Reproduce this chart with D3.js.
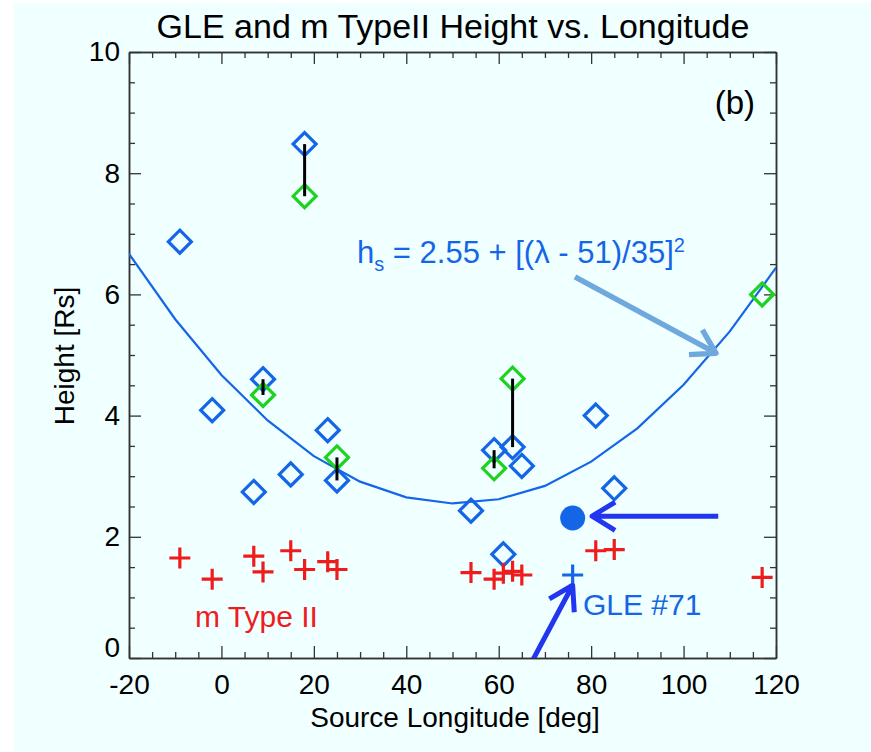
<!DOCTYPE html>
<html>
<head>
<meta charset="utf-8">
<script src="https://d3js.org/d3.v7.min.js"></script>
<style>
body {margin: 0; background: white;}
text {font-family: "Liberation Sans", Arial, sans-serif;}
</style>
</head>
<body>
<svg width="871" height="752"></svg>
<script>
// blue diamonds (measured height)
var blueLon = [-9, 18, 9, -2, 23, 25, 15, 7, 63, 59, 65, 81, 85, 54, 61];
var blueH   = [6.87, 8.48, 4.60, 4.09, 3.76, 2.93, 3.03, 2.74, 3.48, 3.43, 3.17, 4.00, 2.80, 2.43, 1.71];
// green diamonds
var greenLon = [18, 9, 25, 63, 59, 117];
var greenH   = [7.62, 4.34, 3.31, 4.61, 3.13, 6.00];
// black bars joining blue and green pairs
var barLon = [18, 9, 25, 63, 59];
var barTop = [8.48, 4.60, 3.31, 4.61, 3.43];
var barBot = [7.62, 4.34, 2.93, 3.48, 3.13];
// red crosses: m Type II heights
var redLon = [-9, -2, 7, 9, 15, 18, 23, 25, 54, 59, 61, 63, 65, 81, 85, 117];
var redH   = [1.65, 1.30, 1.68, 1.42, 1.77, 1.46, 1.59, 1.46, 1.41, 1.30, 1.40, 1.43, 1.37, 1.77, 1.79, 1.33];
// GLE #71
var gleLon = 76, gleCross = 1.37, gleDot = 2.31;
// fitted curve, every 10 deg
var curveLon = [-20, -10, 0, 10, 20, 30, 40, 50, 60, 70, 80, 90, 100, 110, 120];
var curveH   = [6.67, 5.59, 4.67, 3.92, 3.33, 2.91, 2.65, 2.55, 2.62, 2.84, 3.24, 3.79, 4.51, 5.39, 6.44];
// annotation arrows [lon0, h0, lon1, h1]
var arrowFit  = [76.5, 6.29, 107, 5.03];
var arrowDot  = [107.5, 2.34, 80.2, 2.34];
var arrowGle  = [65.5, -0.3, 76, 1.2];

var xTicks = [-20, 0, 20, 40, 60, 80, 100, 120];
var yTicks = [0, 2, 4, 6, 8, 10];

var blue = "#1466e6", green = "#1fd21f", red = "#ee1c1c";

var svg = d3.select("svg");
svg.append("rect").attr("x", 14).attr("y", 3).attr("width", 871).attr("height", 752).attr("fill", "#f0ffff");

var x = d3.scaleLinear().domain([-20, 120]).range([129, 776]);
var y = d3.scaleLinear().domain([0, 10]).range([658, 52]);

svg.append("defs").append("clipPath").attr("id", "clip")
  .append("rect").attr("x", 129).attr("y", 52).attr("width", 647).attr("height", 606);

var minorX = d3.range(-20, 121, 5).filter(function(d) { return d % 20 != 0; });
var minorY = d3.range(0, 10.01, 0.5).filter(function(d) { return d % 2 != 0; });

function styleAxis(g) {
  g.selectAll("path").attr("stroke", "#333").attr("stroke-width", 1.5);
  g.selectAll("line").attr("stroke", "#333").attr("stroke-width", 1.3);
  g.selectAll("text").attr("fill", "black").style("font-size", "28px").style("font-family", "Liberation Sans, Arial");
}
function plain(d) { return String(d); }

// bottom
svg.append("g").attr("transform", "translate(0,658)")
  .call(d3.axisBottom(x).tickValues(minorX).tickSize(-6).tickSizeOuter(0).tickFormat(""))
  .call(styleAxis);
svg.append("g").attr("transform", "translate(0,658)")
  .call(d3.axisBottom(x).tickValues(xTicks).tickSize(-12).tickSizeOuter(0).tickPadding(16).tickFormat(plain))
  .call(styleAxis);
// top
svg.append("g").attr("transform", "translate(0,52)")
  .call(d3.axisTop(x).tickValues(minorX).tickSize(-6).tickSizeOuter(0).tickFormat(""))
  .call(styleAxis);
svg.append("g").attr("transform", "translate(0,52)")
  .call(d3.axisTop(x).tickValues(xTicks).tickSize(-12).tickSizeOuter(0).tickFormat(""))
  .call(styleAxis);
// left
svg.append("g").attr("transform", "translate(129,0)")
  .call(d3.axisLeft(y).tickValues(minorY).tickSize(-6).tickSizeOuter(0).tickFormat(""))
  .call(styleAxis);
svg.append("g").attr("transform", "translate(129,0)")
  .call(d3.axisLeft(y).tickValues(yTicks).tickSize(-12).tickSizeOuter(0).tickPadding(9).tickFormat(plain))
  .call(styleAxis)
  .selectAll(".tick text").filter(function(d) { return d == 0; }).attr("y", -10);
// right
svg.append("g").attr("transform", "translate(776,0)")
  .call(d3.axisRight(y).tickValues(minorY).tickSize(-6).tickSizeOuter(0).tickFormat(""))
  .call(styleAxis);
svg.append("g").attr("transform", "translate(776,0)")
  .call(d3.axisRight(y).tickValues(yTicks).tickSize(-12).tickSizeOuter(0).tickFormat(""))
  .call(styleAxis);

// titles
svg.append("text").attr("x", 453).attr("y", 38).attr("text-anchor", "middle")
  .style("font-size", "34px").text("GLE and m TypeII Height vs. Longitude");
svg.append("text").attr("x", 455).attr("y", 727).attr("text-anchor", "middle")
  .style("font-size", "28px").text("Source Longitude [deg]");
svg.append("text").attr("transform", "translate(74,356) rotate(-90)").attr("text-anchor", "middle")
  .style("font-size", "28px").text("Height [Rs]");

var plot = svg.append("g").attr("clip-path", "url(#clip)");

// fit curve
var curve = d3.line().x(function(d, i) { return x(curveLon[i]); }).y(function(d) { return y(d); });
plot.append("path").datum(curveH).attr("d", curve)
  .attr("fill", "none").attr("stroke", blue).attr("stroke-width", 2.2);

var diamond = "M0,-11.5L11.5,0L0,11.5L-11.5,0Z";
var cross = "M-10.5,0H10.5M0,-10.5V10.5";

plot.selectAll(".blue").data(blueH).enter().append("path")
  .attr("d", diamond)
  .attr("transform", function(d, i) { return "translate(" + x(blueLon[i]) + "," + y(d) + ")"; })
  .attr("fill", "none").attr("stroke", blue).attr("stroke-width", 3.2);

plot.selectAll(".green").data(greenH).enter().append("path")
  .attr("d", diamond)
  .attr("transform", function(d, i) { return "translate(" + x(greenLon[i]) + "," + y(d) + ")"; })
  .attr("fill", "none").attr("stroke", green).attr("stroke-width", 3.2);

plot.selectAll(".bar").data(barLon).enter().append("line")
  .attr("x1", function(d) { return x(d); }).attr("x2", function(d) { return x(d); })
  .attr("y1", function(d, i) { return y(barTop[i]); })
  .attr("y2", function(d, i) { return y(barBot[i]); })
  .attr("stroke", "black").attr("stroke-width", 3);

plot.selectAll(".red").data(redH).enter().append("path")
  .attr("d", cross)
  .attr("transform", function(d, i) { return "translate(" + x(redLon[i]) + "," + y(d) + ")"; })
  .attr("fill", "none").attr("stroke", red).attr("stroke-width", 3.2);

plot.append("path").attr("d", cross)
  .attr("transform", "translate(" + x(gleLon) + "," + y(gleCross) + ")")
  .attr("fill", "none").attr("stroke", blue).attr("stroke-width", 3.2);
plot.append("circle").attr("cx", x(gleLon)).attr("cy", y(gleDot)).attr("r", 12.5).attr("fill", blue);

// arrows
function arrow(a, color, width) {
  var x0 = x(a[0]), y0 = y(a[1]), x1 = x(a[2]), y1 = y(a[3]);
  var ang = Math.atan2(y0 - y1, x0 - x1), len = 27, spread = 0.55;
  var p = d3.path();
  p.moveTo(x0, y0); p.lineTo(x1, y1);
  p.moveTo(x1 + len * Math.cos(ang + spread), y1 + len * Math.sin(ang + spread));
  p.lineTo(x1, y1);
  p.lineTo(x1 + len * Math.cos(ang - spread), y1 + len * Math.sin(ang - spread));
  plot.append("path").attr("d", p.toString()).attr("fill", "none")
    .attr("stroke", color).attr("stroke-width", width).attr("stroke-linejoin", "round");
}
arrow(arrowFit, "#6ea8dc", 5.5);
arrow(arrowDot, "#2036f0", 5);
arrow(arrowGle, "#2036f0", 5);

// labels
var fit = svg.append("text").attr("x", 357).attr("y", 263).attr("fill", blue).style("font-size", "31px");
fit.append("tspan").text("h");
fit.append("tspan").attr("dy", 8).style("font-size", "20px").text("s");
fit.append("tspan").attr("dy", -8).text(" = 2.55 + [(\u03bb - 51)/35]");
fit.append("tspan").attr("dy", -11).style("font-size", "20px").text("2");

svg.append("text").attr("x", 755).attr("y", 114).attr("text-anchor", "end")
  .style("font-size", "33px").text("(b)");
svg.append("text").attr("x", 195).attr("y", 627).attr("fill", red)
  .style("font-size", "30px").text("m Type II");
svg.append("text").attr("x", 583).attr("y", 615).attr("fill", blue)
  .style("font-size", "30px").text("GLE #71");
</script>
</body>
</html>
